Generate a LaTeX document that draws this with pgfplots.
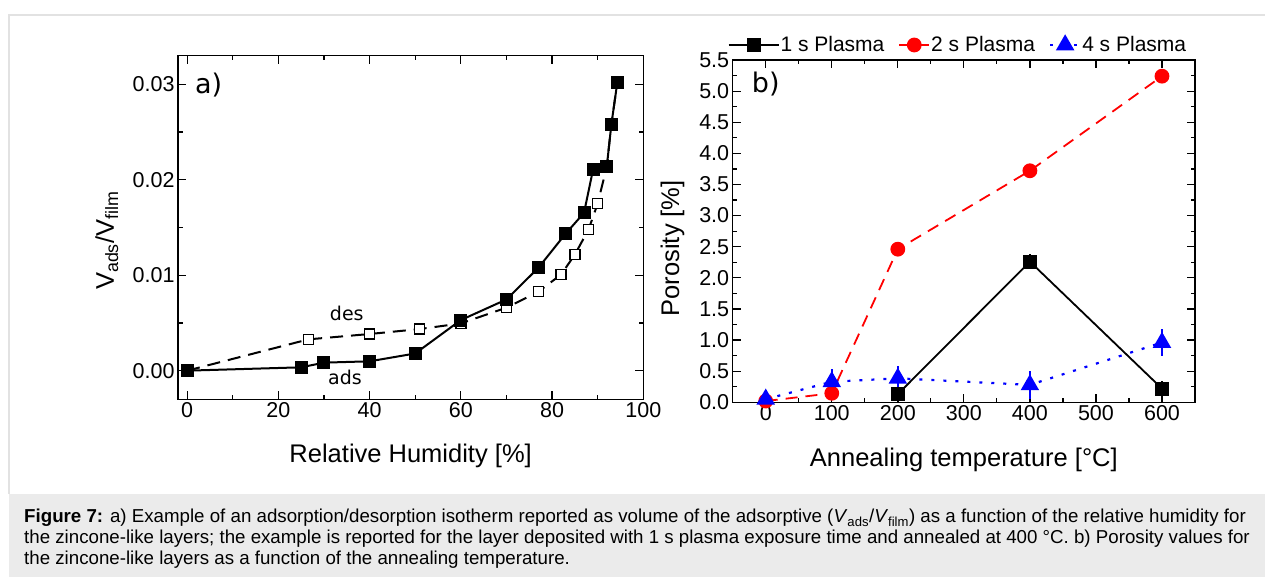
\documentclass[border=0pt]{standalone}
\usepackage{fontspec}
\setmainfont{Liberation Sans}
\newfontfamily\dejavu{DejaVu Sans}
\usepackage{pgfplots}
\pgfplotsset{compat=1.18}
\definecolor{capgray}{RGB}{235,235,235}
\definecolor{framegray}{RGB}{226,226,226}
\definecolor{pred}{RGB}{255,0,0}
\definecolor{pblue}{RGB}{0,0,255}
\newcommand{\fs}[1]{\fontsize{#1}{#1}\selectfont}
\pgfplotsset{
  longleg/.style={legend image code/.code={\draw[mark repeat=2, mark phase=2, ##1] plot coordinates {(0pt,0pt) (25pt,0pt) (50pt,0pt)};}},
  shortleg/.style={legend image code/.code={\draw[mark repeat=2, mark phase=2, ##1] plot coordinates {(0pt,0pt) (15pt,0pt) (30pt,0pt)};}},
}
\begin{document}
\begin{tikzpicture}
\fill[white] (0pt,0pt) rectangle (1265pt,577pt);
\fill[capgray] (9pt,0pt) rectangle (1265pt,83pt);
\draw[framegray, line width=1.3pt] (9pt,83pt) -- (9pt,562pt) -- (1265pt,562pt);
\node[anchor=base west, inner sep=0pt, font=\fs{18.7}] at (24pt,54pt) {\textbf{Figure 7:} a) Example of an adsorption/desorption isotherm reported as volume of the adsorptive (\textit{V}\textsubscript{ads}/\textit{V}\textsubscript{film}) as a function of the relative humidity for};
\node[anchor=base west, inner sep=0pt, font=\fs{18.7}] at (24pt,33pt) {the zincone-like layers; the example is reported for the layer deposited with 1 s plasma exposure time and annealed at 400 °C. b) Porosity values for};
\node[anchor=base west, inner sep=0pt, font=\fs{18.7}] at (24pt,12pt) {the zincone-like layers as a function of the annealing temperature.};

\begin{axis}[
  at={(178pt,177.7pt)}, anchor=south west, scale only axis,
  width=465.3pt, height=343.6pt,
  xmin=-2, xmax=100, ymin=-0.003, ymax=0.033,
  xtick={0,20,40,60,80,100}, minor x tick num=1,
  ytick={0,0.01,0.02,0.03}, minor y tick num=1,
  scaled y ticks=false,
  yticklabel style={/pgf/number format/.cd, fixed, fixed zerofill, precision=2},
  /pgf/number format/assume math mode=true,
  tick align=inside, major tick length=8pt, minor tick length=4.5pt,
  axis line style={line width=1.5pt},
  every tick/.style={line width=1.2pt, black},
  ticklabel style={font=\fs{21.5}},
  label style={font=\fs{25.5}},
  xlabel={Relative Humidity [\%]},
  ylabel={V\textsubscript{ads}/V\textsubscript{film}},
  xlabel style={at={(axis description cs:0.5,-0.165)}, anchor=center},
  ylabel style={at={(axis description cs:-0.153,0.462)}, anchor=center},
  clip=false,
]
\addplot[black, line width=2pt, dash pattern=on 13pt off 8pt, mark=square*, mark size=5pt,
  mark options={solid, fill=white, line width=1.4pt}] coordinates {
  (0,0) (26.6,0.00328) (40,0.00384) (51,0.00436) (60,0.00495) (70,0.0066) (77,0.00827)
  (82,0.01008) (85,0.01217) (88,0.01479) (90,0.01751) (92,0.0214) (93,0.0258) (94.3,0.0302)};
\addplot[black, line width=2pt, mark=square*, mark size=5.5pt, mark options={solid, fill=black}] coordinates {
  (0,0) (25,0.00035) (30,0.00084) (40,0.00098) (50,0.0018) (60,0.0053) (70,0.00746)
  (77,0.01078) (83,0.01437) (87,0.01653) (89,0.0211) (92,0.0214) (93,0.0258) (94.3,0.0302)};
\node[font=\dejavu\fs{19}] at (axis cs:35,0.0060) {des};
\node[font=\dejavu\fs{19}] at (axis cs:34.6,-0.0007) {ads};
\node[font=\dejavu\fs{27}] at (axis cs:4.7,0.0299) {a)};
\end{axis}

\begin{axis}[
  at={(732.7pt,174.7pt)}, anchor=south west, scale only axis,
  width=462.3pt, height=342.3pt,
  xmin=-50, xmax=650, ymin=0, ymax=5.5,
  xtick={0,100,200,300,400,500,600}, minor x tick num=1,
  ytick={0,0.5,1,1.5,2,2.5,3,3.5,4,4.5,5,5.5}, minor y tick num=1,
  yticklabel style={/pgf/number format/.cd, fixed, fixed zerofill, precision=1},
  /pgf/number format/assume math mode=true,
  tick align=inside, major tick length=8pt, minor tick length=4.5pt,
  axis line style={line width=1.5pt},
  every tick/.style={line width=1.2pt, black},
  ticklabel style={font=\fs{21.5}},
  label style={font=\fs{25.5}},
  xlabel={Annealing temperature [°C]},
  ylabel={Porosity [\%]},
  xlabel style={at={(axis description cs:0.5,-0.1686)}, anchor=center},
  ylabel style={at={(axis description cs:-0.130,0.45)}, anchor=center},
  clip=false,
  legend columns=3,
  legend style={at={(axis description cs:0,1)}, anchor=west, xshift=-5pt, yshift=15pt,
    draw=none, fill=none, font=\fs{21}, inner sep=0pt, outer sep=0pt,
    /tikz/every even column/.append style={column sep=13pt},
    nodes={inner xsep=1pt, inner ysep=2pt}},
]
\addplot[black, line width=1.8pt, mark=square*, mark size=6pt, mark options={solid}, longleg,
  error bars/.cd, y dir=both, y explicit, error mark options={mark size=0pt}, error bar style={line width=1.5pt}] coordinates {
  (200,0.13) +- (0,0.12) (400,2.26) +- (0,0.12) (600,0.22) +- (0,0.12)};
\addlegendentry{1 s Plasma}
\addplot[pred, line width=1.8pt, dash pattern=on 12pt off 8pt, mark=*, mark size=6.5pt, mark options={solid}, shortleg,
  error bars/.cd, y dir=both, y explicit, error mark options={mark size=0pt}, error bar style={line width=1.5pt, solid}] coordinates {
  (0,0.02) +- (0,0.06) (100,0.145) +- (0,0.1) (200,2.46) +- (0,0.1) (400,3.72) +- (0,0.1) (600,5.24) +- (0,0.1)};
\addlegendentry{2 s Plasma}
\addplot[pblue, line width=2.2pt, dash pattern=on 3pt off 9pt, mark=triangle*, mark size=8.5pt, mark options={solid}, shortleg,
  error bars/.cd, y dir=both, y explicit, error mark options={mark size=0pt}, error bar style={line width=1.5pt, solid}] coordinates {
  (0,0.05) +- (0,0.1) (100,0.33) +- (0,0.2) (200,0.385) +- (0,0.2) (400,0.28) +- (0,0.22) (600,0.96) +- (0,0.22)};
\addlegendentry{4 s Plasma}
\node[font=\dejavu\fs{27}] at (axis cs:0,5.12) {b)};
\end{axis}
\pgfresetboundingbox
\useasboundingbox (0pt,0pt) rectangle (1265pt,577pt);
\end{tikzpicture}
\end{document}
